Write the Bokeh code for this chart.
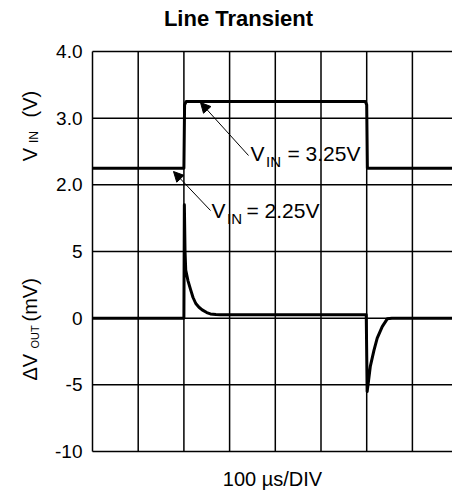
import math
from bokeh.plotting import figure
from bokeh.models import Range1d, Label, Arrow, NormalHead
from bokeh.core.properties import value
from bokeh.embed import file_html
from bokeh.resources import INLINE

# ---- data ----
vin_t = [0, 2.0, 2.015, 2.05, 5.97, 6.0, 6.015, 8.5]          # divisions (100 us/DIV)
vin_v = [2.25, 2.25, 3.2, 3.25, 3.25, 3.2, 2.25, 2.25]        # V

dv_t = [0, 2.0, 2.01, 2.025, 2.04, 2.09, 2.15, 2.20, 2.26, 2.33, 2.40, 2.50, 2.58,
        2.70, 2.80, 5.99, 6.01, 6.04, 6.08, 6.16, 6.23, 6.34, 6.45, 6.55, 8.5]
dv_v = [0, 0, 8.5, 5.0, 3.6, 2.8, 2.1, 1.55, 1.1, 0.82, 0.62, 0.42, 0.32,
        0.27, 0.25, 0.25, -5.5, -4.7, -3.6, -2.4, -1.5, -0.63, -0.05, 0, 0]

y_ticks = [-10, -5, 0, 5, 10, 15, 20]                 # shared grid rows (mV scale)
y_tick_labels = ["-10", "-5", "0", "5", "2.0", "3.0", "4.0"]
x_grid = [0, 1, 2, 3, 4, 5, 6, 7, 8]

# ---- layout (page pixels) ----
W, H = 452, 491
FL, FT = 92, 51          # chart area left / top in pixels
PXX = 45.7               # pixels per division
PXY = 400 / 30.0         # pixels per mV unit
FONT = "Liberation Sans"
MID = 0.35               # middle of text box above the baseline, in em

def dx(px):
    return (px - FL) / PXX
def dy(py):
    return 20 - (py - FT) / PXY

p = figure(width=W, height=H, output_backend="svg", toolbar_location=None,
           x_range=Range1d(dx(0), dx(W)), y_range=Range1d(dy(H), dy(0)),
           min_border_left=0, min_border_right=0, min_border_top=0, min_border_bottom=0)
p.extra_y_ranges = {"vin": Range1d(dy(H) / 5.0, dy(0) / 5.0)}
p.title.visible = False
p.xaxis.visible = False
p.yaxis.visible = False
p.xgrid.visible = False
p.ygrid.visible = False
p.outline_line_color = None
p.background_fill_color = "white"
p.border_fill_color = "white"

y_lo, y_hi = min(y_ticks), max(y_ticks)
x_lo, x_hi = min(x_grid), max(x_grid)

# grid
p.segment(x0=x_grid, y0=[y_lo] * len(x_grid), x1=x_grid, y1=[y_hi] * len(x_grid),
          line_color="black", line_width=1.5)
p.segment(x0=[x_lo] * len(y_ticks), y0=y_ticks, x1=[x_hi] * len(y_ticks), y1=y_ticks,
          line_color="black", line_width=1.5)

# tick labels
p.text(x=[dx(82)] * len(y_ticks), y=y_ticks, text=y_tick_labels,
       text_align="right", text_baseline="middle", text_font=value(FONT),
       text_font_size="19px", text_color="black")

# data
p.line(vin_t, vin_v, y_range_name="vin", line_color="black", line_width=3, line_join="round")
p.line(dv_t, dv_v, line_color="black", line_width=3, line_join="round")

def lab(text, px, py, size, align="left", bold=False, rotated=False):
    # (px, py): start (or centre) of the text on its baseline, in page pixels
    if rotated:
        ax, ay, ang = px - MID * size, py, math.pi / 2
    else:
        ax, ay, ang = px, py - MID * size, 0.0
    p.add_layout(Label(x=dx(ax), y=dy(ay), text=text, text_font=FONT,
                       text_font_size=f"{size}px", text_align=align, text_baseline="middle",
                       text_font_style="bold" if bold else "normal", angle=ang,
                       text_color="black"))

# title
lab("Line Transient", 238, 26, 22, align="center", bold=True)
# x label
lab("100 µs/DIV", 272, 485, 20, align="center")

# y labels (rotated)
lab("V", 36, 160.7, 20, rotated=True)
lab("IN", 38, 142.5, 12, rotated=True)
lab("(V)", 36, 117, 20, rotated=True)

lab("ΔV", 36, 380, 20, rotated=True)
lab("OUT", 38.5, 348, 11, rotated=True)
lab("(mV)", 36, 321, 20, rotated=True)

# annotations
lab("V", 250, 160, 21)
lab("IN", 265.5, 166, 15)
lab("= 3.25V", 287, 160, 21)

lab("V", 211, 217, 21)
lab("IN", 226.5, 223, 15)
lab("= 2.25V", 246, 217, 21)

for (x0, y0, x1, y1) in [(248, 155, 200, 102), (210, 210, 173, 171)]:
    p.add_layout(Arrow(x_start=dx(x0), y_start=dy(y0), x_end=dx(x1), y_end=dy(y1),
                       line_color="black", line_width=1,
                       end=NormalHead(size=10, fill_color="black", line_color="black", line_width=1)))

open("out.html", "w").write(file_html(p, INLINE))
